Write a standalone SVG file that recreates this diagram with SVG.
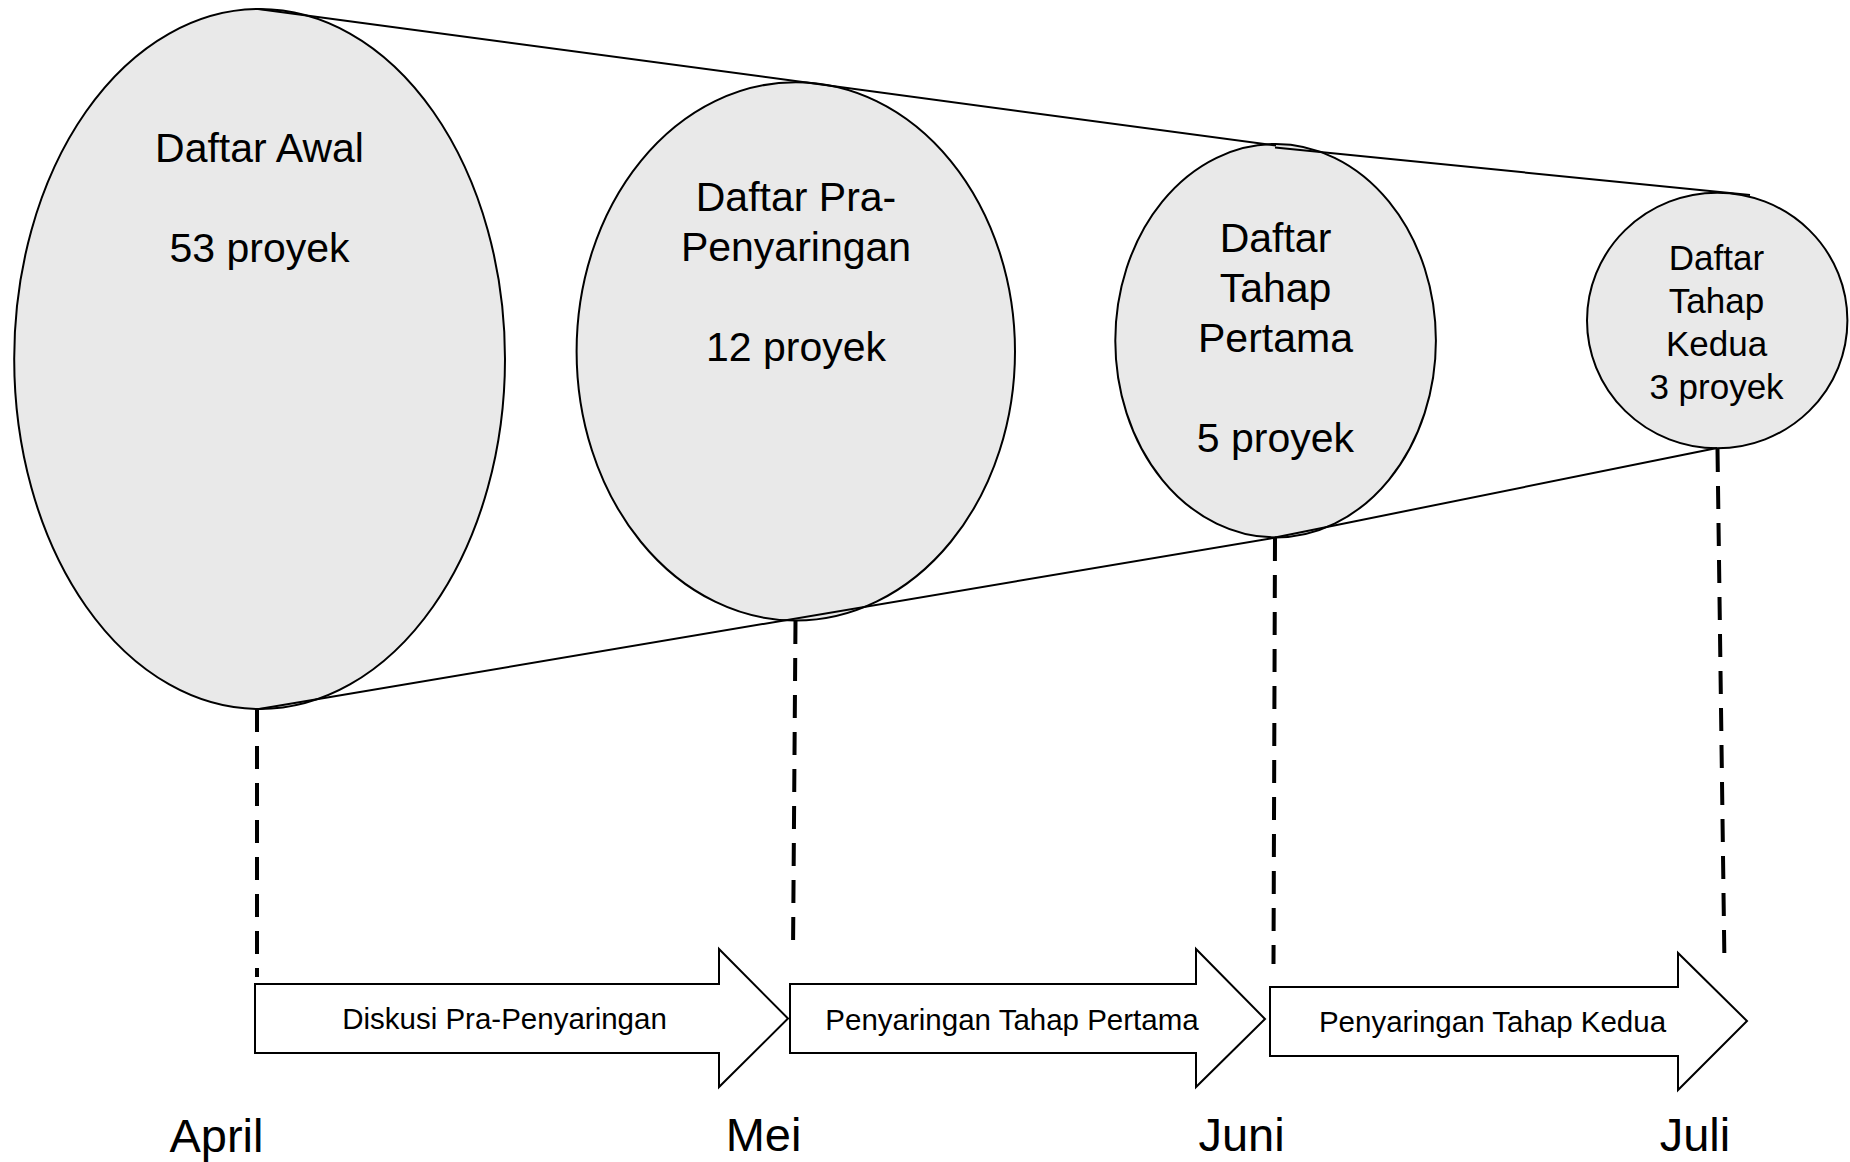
<svg xmlns="http://www.w3.org/2000/svg" width="1850" height="1162" viewBox="0 0 1850 1162">
  <style>
    .stage { fill: #e9e9e9; stroke: #000; stroke-width: 2; }
    .edge { stroke: #000; stroke-width: 2; fill: none; }
    .guide { stroke: #000; stroke-width: 4; stroke-dasharray: 23 14; fill: none; }
    .step { fill: #fff; stroke: #000; stroke-width: 2; stroke-linejoin: miter; }
    text { font-family: "Liberation Sans", Arial, sans-serif; fill: #000; text-anchor: middle; }
    .big { font-size: 41px; }
    .mid { font-size: 35px; }
    .small { font-size: 29.5px; }
    .month { font-size: 47px; }
  </style>

  <rect width="1850" height="1162" fill="#fff"/>

  <!-- funnel stages -->
  <g id="stage-awal">
    <ellipse class="stage" cx="259.6" cy="359" rx="245.4" ry="350"/>
    <text class="big" x="259.5" y="162">Daftar Awal</text>
    <text class="big" x="259.5" y="262">53 proyek</text>
  </g>
  <g id="stage-pra">
    <ellipse class="stage" cx="795.8" cy="351.4" rx="219.2" ry="269.2"/>
    <text class="big" x="796" y="211">Daftar Pra-</text>
    <text class="big" x="796" y="261">Penyaringan</text>
    <text class="big" x="796" y="361">12 proyek</text>
  </g>
  <g id="stage-pertama">
    <ellipse class="stage" cx="1275.6" cy="340.7" rx="160.3" ry="196.7"/>
    <text class="big" x="1275.5" y="251.5">Daftar</text>
    <text class="big" x="1275.5" y="301.5">Tahap</text>
    <text class="big" x="1275.5" y="351.5">Pertama</text>
    <text class="big" x="1275.5" y="451.5">5 proyek</text>
  </g>
  <g id="stage-kedua">
    <ellipse class="stage" cx="1717.2" cy="320.5" rx="130.2" ry="127.8"/>
    <text class="mid" x="1716.5" y="270">Daftar</text>
    <text class="mid" x="1716.5" y="313">Tahap</text>
    <text class="mid" x="1716.5" y="356">Kedua</text>
    <text class="mid" x="1716.5" y="399">3 proyek</text>
  </g>

  <!-- funnel outline and drop lines to the timeline -->
  <g id="connectors">
    <line class="edge" x1="258" y1="9" x2="1276" y2="145.5"/>
    <line class="edge" x1="1275" y1="147.5" x2="1750" y2="195"/>
    <line class="edge" x1="259" y1="709" x2="1276" y2="537.5"/>
    <line class="edge" x1="1275" y1="537.5" x2="1717" y2="448"/>
    <line class="guide" x1="257" y1="709" x2="257" y2="977"/>
    <line class="guide" x1="795.5" y1="621" x2="793" y2="954"/>
    <line class="guide" x1="1275" y1="538" x2="1273.5" y2="964"/>
    <line class="guide" x1="1717.5" y1="449" x2="1724.5" y2="966"/>
  </g>

  <!-- timeline phases -->
  <g id="phase-diskusi">
    <polygon class="step" points="255,984 719,984 719,949 788,1018.5 719,1087 719,1053 255,1053"/>
    <text class="small" x="504.5" y="1029">Diskusi Pra-Penyaringan</text>
  </g>
  <g id="phase-pertama">
    <polygon class="step" points="790,984 1196,984 1196,949 1265,1019 1196,1087 1196,1053 790,1053"/>
    <text class="small" x="1012" y="1030">Penyaringan Tahap Pertama</text>
  </g>
  <g id="phase-kedua">
    <polygon class="step" points="1270,987 1678,987 1678,953 1747,1021 1678,1090 1678,1056 1270,1056"/>
    <text class="small" x="1492.5" y="1031.5">Penyaringan Tahap Kedua</text>
  </g>

  <!-- months -->
  <g id="months">
    <text class="month" x="216.5" y="1152">April</text>
    <text class="month" x="763.5" y="1151">Mei</text>
    <text class="month" x="1241.5" y="1151">Juni</text>
    <text class="month" x="1695" y="1151">Juli</text>
  </g>
</svg>
